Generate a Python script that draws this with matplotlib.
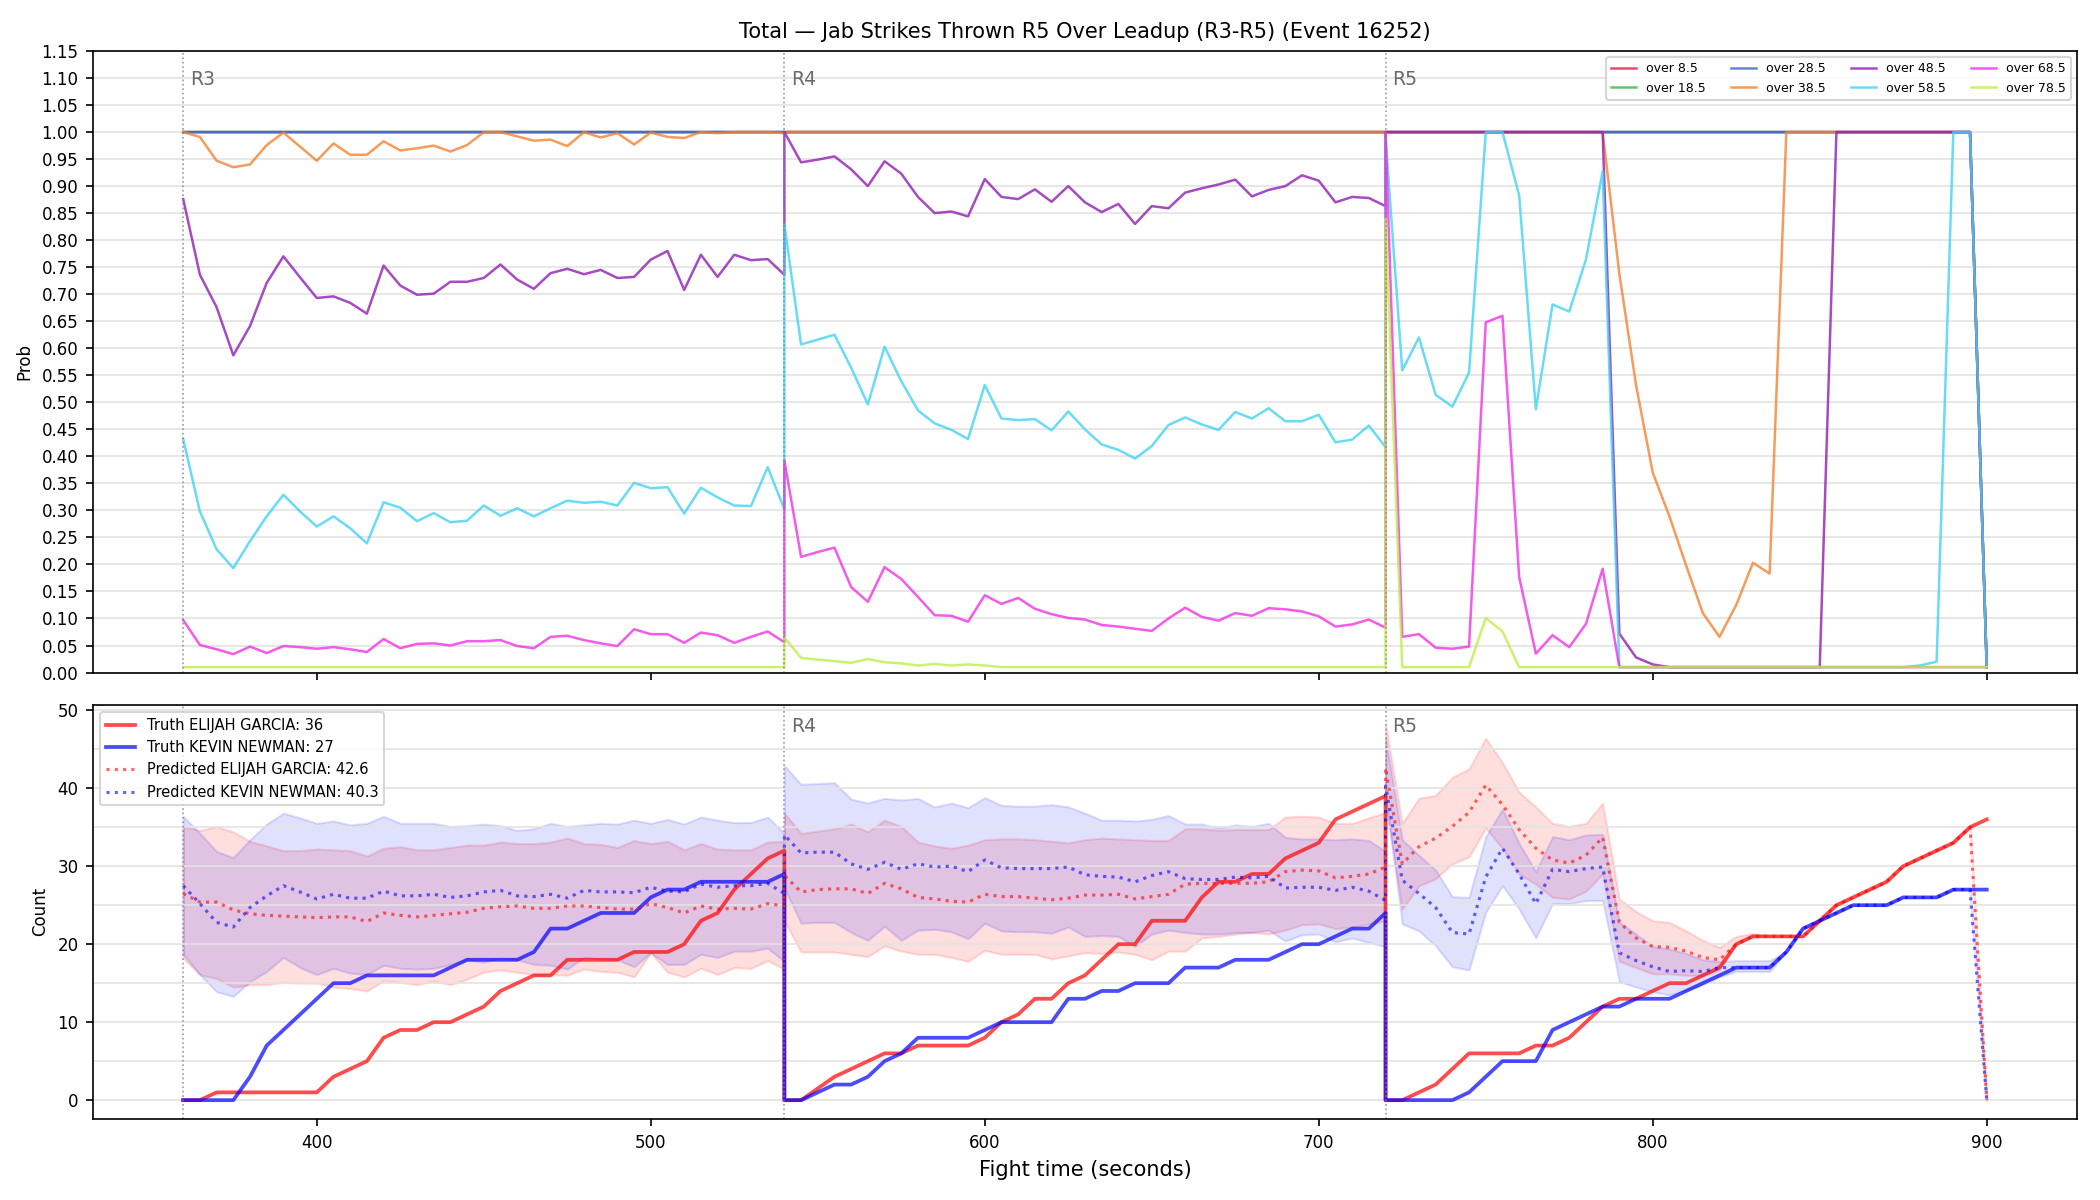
import matplotlib
matplotlib.use("Agg")
import matplotlib.pyplot as plt
from matplotlib.ticker import MultipleLocator, FormatStrFormatter

# rounds shown in the leadup, each sampled every 5 s
round_names = ["R3", "R4", "R5"]
round_starts = [360, 540, 720]
round_secs = list(range(0, 181, 5))
fight_time = [s + t for s in round_starts for t in round_secs]

line_labels = ["over 8.5", "over 18.5", "over 28.5", "over 38.5",
               "over 48.5", "over 58.5", "over 68.5", "over 78.5"]
line_colors = ["#e6194b", "#3cb44b", "#4363d8", "#f58231",
               "#911eb4", "#42d4f4", "#f032e6", "#bfef45"]

# P(over line) per sample
p_over_8 = [1.0] * 37 + [1.0] * 37 + [1.0] * 36 + [0.01]
p_over_18 = [1.0] * 37 + [1.0] * 37 + [1.0] * 36 + [0.01]
p_over_28 = [1.0] * 37 + [1.0] * 37 + [1.0] * 36 + [0.01]
p_over_38 = (
    [1.0, 0.991, 0.947, 0.935, 0.94, 0.976, 0.999, 0.973, 0.947, 0.979, 0.958, 0.958,
     0.983, 0.966, 0.97, 0.975, 0.964, 0.976, 1.0, 1.0, 0.992, 0.984, 0.986, 0.974,
     1.0, 0.99, 0.998, 0.977, 0.999, 0.991, 0.989, 1.0, 0.998, 1.0, 1.0, 1.0, 0.998]
    + [1.0] * 37
    + [1.0] * 14
    + [0.738, 0.532, 0.37, 0.289, 0.198, 0.11, 0.066, 0.125, 0.203, 0.183]
    + [1.0] * 12 + [0.01]
)
p_over_48 = (
    [0.876, 0.736, 0.676, 0.587, 0.641, 0.721, 0.77, 0.731, 0.693, 0.696, 0.684, 0.664,
     0.753, 0.716, 0.699, 0.701, 0.723, 0.723, 0.73, 0.755, 0.727, 0.71, 0.739, 0.747,
     0.737, 0.745, 0.73, 0.732, 0.764, 0.78, 0.708, 0.773, 0.732, 0.773, 0.763, 0.765, 0.736]
    + [1.0, 0.944, 0.949, 0.955, 0.931, 0.9, 0.946, 0.923, 0.88, 0.85, 0.853, 0.844,
       0.913, 0.88, 0.876, 0.894, 0.871, 0.9, 0.87, 0.852, 0.867, 0.83, 0.863, 0.859,
       0.888, 0.896, 0.903, 0.912, 0.881, 0.893, 0.9, 0.92, 0.91, 0.87, 0.88, 0.878, 0.863]
    + [1.0] * 14 + [0.072, 0.028, 0.015] + [0.01] * 10 + [1.0] * 9 + [0.01]
)
p_over_58 = (
    [0.432, 0.298, 0.228, 0.193, 0.243, 0.289, 0.329, 0.298, 0.27, 0.289, 0.267, 0.239,
     0.315, 0.305, 0.28, 0.295, 0.278, 0.281, 0.309, 0.29, 0.304, 0.289, 0.304, 0.318,
     0.314, 0.316, 0.309, 0.351, 0.341, 0.343, 0.294, 0.342, 0.324, 0.309, 0.308, 0.38, 0.302]
    + [0.829, 0.607, 0.616, 0.625, 0.564, 0.496, 0.603, 0.539, 0.485, 0.461, 0.449, 0.432,
       0.532, 0.47, 0.467, 0.469, 0.448, 0.483, 0.45, 0.422, 0.412, 0.396, 0.419, 0.458,
       0.472, 0.459, 0.449, 0.482, 0.47, 0.489, 0.465, 0.465, 0.477, 0.426, 0.431, 0.457, 0.417]
    + [0.99, 0.559, 0.62, 0.514, 0.492, 0.555, 1.0, 1.0, 0.883, 0.487, 0.681, 0.668,
       0.764, 0.927] + [0.01] * 18 + [0.013, 0.02, 1.0, 1.0, 0.01]
)
p_over_68 = (
    [0.097, 0.051, 0.043, 0.034, 0.048, 0.036, 0.049, 0.047, 0.044, 0.047, 0.043, 0.038,
     0.062, 0.045, 0.053, 0.054, 0.05, 0.058, 0.058, 0.06, 0.049, 0.045, 0.066, 0.068,
     0.06, 0.054, 0.049, 0.08, 0.071, 0.071, 0.055, 0.074, 0.069, 0.055, 0.066, 0.076, 0.056]
    + [0.392, 0.214, 0.223, 0.231, 0.158, 0.131, 0.195, 0.173, 0.14, 0.106, 0.105, 0.094,
       0.143, 0.127, 0.138, 0.118, 0.108, 0.101, 0.098, 0.088, 0.085, 0.081, 0.077, 0.1,
       0.12, 0.103, 0.096, 0.11, 0.105, 0.119, 0.117, 0.113, 0.104, 0.085, 0.089, 0.098, 0.083]
    + [1.0, 0.066, 0.071, 0.046, 0.044, 0.048, 0.648, 0.66, 0.177, 0.035, 0.069, 0.047,
       0.09, 0.192] + [0.01] * 23
)
p_over_78 = (
    [0.01] * 37
    + [0.065, 0.027, 0.024, 0.021, 0.018, 0.025, 0.019, 0.017, 0.013, 0.016, 0.013,
       0.015, 0.013] + [0.01] * 24
    + [0.84, 0.01, 0.01, 0.01, 0.01, 0.01, 0.101, 0.076] + [0.01] * 29
)
prob_series = [p_over_8, p_over_18, p_over_28, p_over_38,
               p_over_48, p_over_58, p_over_68, p_over_78]

# cumulative counts
truth_garcia = (
    [0, 0, 1, 1, 1, 1, 1, 1, 1, 3, 4, 5, 8, 9, 9, 10, 10, 11, 12, 14, 15, 16, 16,
     18, 18, 18, 18, 19, 19, 19, 20, 23, 24, 27, 29, 31, 32]
    + [0, 0, 1.5, 3, 4, 5, 6, 6, 7, 7, 7, 7, 8, 10, 11, 13, 13, 15, 16, 18, 20, 20,
       23, 23, 23, 26, 28, 28, 29, 29, 31, 32, 33, 36, 37, 38, 39]
    + [0, 0, 1, 2, 4, 6, 6, 6, 6, 7, 7, 8, 10, 12, 13, 13, 14, 15, 15, 16, 17, 20,
       21, 21, 21, 21, 23, 25, 26, 27, 28, 30, 31, 32, 33, 35, 36]
)
truth_newman = (
    [0, 0, 0, 0, 3, 7, 9, 11, 13, 15, 15, 16, 16, 16, 16, 16, 17, 18, 18, 18, 18, 19,
     22, 22, 23, 24, 24, 24, 26, 27, 27, 28, 28, 28, 28, 28, 29]
    + [0, 0, 1, 2, 2, 3, 5, 6, 8, 8, 8, 8, 9, 10, 10, 10, 10, 13, 13, 14, 14, 15, 15,
       15, 17, 17, 17, 18, 18, 18, 19, 20, 20, 21, 22, 22, 24]
    + [0, 0, 0, 0, 0, 1, 3, 5, 5, 5, 9, 10, 11, 12, 12, 13, 13, 13, 14, 15, 16, 17,
       17, 17, 19, 22, 23, 24, 25, 25, 25, 26, 26, 26, 27, 27, 27]
)
pred_garcia = (
    [26.5, 25.4, 25.4, 24.4, 23.9, 23.7, 23.6, 23.5, 23.4, 23.5, 23.5, 22.9, 24.0,
     23.7, 23.5, 23.7, 23.9, 24.1, 24.6, 24.8, 24.9, 24.6, 24.6, 24.9, 24.9, 24.7,
     24.5, 24.5, 25.2, 24.7, 24.0, 24.9, 24.5, 24.6, 24.5, 25.2, 24.9]
    + [28.8, 26.7, 27.0, 27.1, 27.1, 26.5, 27.8, 27.1, 26.0, 25.8, 25.5, 25.4, 26.4,
       26.1, 26.1, 25.9, 25.7, 25.9, 26.3, 26.3, 26.4, 25.8, 26.1, 26.4, 27.7, 27.8,
       27.8, 27.8, 27.8, 28.0, 29.3, 29.5, 29.4, 28.5, 28.7, 29.0, 29.9]
    + [42.6, 30.3, 32.5, 33.6, 35.1, 36.9, 40.4, 37.9, 34.7, 32.3, 30.8, 30.4, 31.4,
       33.7, 22.8, 20.8, 19.7, 19.6, 19.1, 18.3, 18.0, 20, 21, 21, 21, 21, 23, 25, 26,
       27, 28, 30, 31, 32, 33, 35, 0]
)
pred_newman = (
    [27.5, 25.2, 22.8, 22.2, 24.7, 26.2, 27.5, 26.7, 25.8, 26.4, 25.9, 25.9, 26.8,
     26.2, 26.2, 26.4, 26.0, 26.2, 26.7, 26.9, 26.2, 26.1, 26.4, 25.9, 26.9, 26.7,
     26.7, 26.6, 27.3, 26.8, 26.7, 27.7, 27.3, 27.5, 27.5, 27.8, 26.5]
    + [34.0, 31.7, 31.8, 31.8, 30.3, 29.6, 30.5, 29.6, 30.3, 29.9, 30.0, 29.3, 30.8,
       29.8, 29.7, 29.7, 29.7, 29.9, 28.9, 28.7, 28.6, 28.0, 28.8, 29.3, 28.4, 28.3,
       28.3, 28.6, 28.5, 28.7, 27.2, 27.3, 27.3, 26.9, 27.3, 26.8, 25.6]
    + [40.3, 28.2, 26.5, 24.7, 21.5, 21.3, 28.6, 32.3, 29.0, 25.2, 29.6, 29.3, 29.7,
       29.9, 18.9, 17.9, 17.1, 16.5, 16.6, 16.5, 17.0, 17, 17, 17, 19, 22, 23, 24, 25,
       25, 25, 26, 26, 26, 27, 27, 0]
)
garcia_hi = (
    [35.1, 34.6, 35.1, 34.4, 33.2, 32.6, 32.0, 32.0, 32.2, 32.1, 32.0, 31.3, 32.3,
     32.5, 32.1, 32.1, 32.4, 32.7, 32.7, 33.1, 32.9, 32.9, 33.1, 33.6, 32.9, 32.8,
     32.4, 33.3, 32.9, 33.2, 32.1, 32.9, 32.2, 32.1, 32.1, 33.1, 33.2]
    + [36.8, 34.2, 34.5, 34.8, 35.4, 34.4, 35.9, 35.1, 33.1, 32.6, 32.3, 32.7, 33.4,
       33.5, 33.5, 33.4, 33.2, 33.0, 33.4, 33.6, 33.5, 33.4, 33.3, 33.3, 34.8, 34.8,
       34.6, 34.7, 34.7, 34.7, 36.3, 36.4, 36.3, 35.5, 35.5, 36.2, 36.9]
    + [48.3, 35.5, 38.7, 39.1, 41.4, 42.5, 46.4, 43.3, 39.5, 37.6, 35.5, 35.1, 35.5,
       38.1, 25.8, 24.2, 23.0, 22.8, 21.7, 20.5, 19.6, 21.0, 21.4, 21, 21, 21, 23, 25,
       26, 27, 28, 30, 31, 32, 33, 35, 0]
)
garcia_lo = (
    [18.2, 16.1, 15.6, 14.5, 14.8, 14.8, 15.1, 15.0, 15.0, 14.5, 14.3, 14.0, 15.3,
     15.1, 14.8, 15.3, 14.8, 15.5, 16.4, 16.7, 16.4, 16.1, 16.1, 16.0, 16.8, 16.5,
     16.4, 15.8, 18.9, 16.4, 15.8, 16.9, 16.1, 17.0, 16.9, 17.9, 16.8]
    + [23.0, 19.0, 19.0, 19.0, 18.7, 18.4, 19.8, 19.1, 18.7, 18.7, 18.3, 17.8, 19.2,
       18.7, 18.7, 18.7, 18.1, 18.5, 18.9, 18.8, 19.0, 18.7, 18.0, 19.1, 19.1, 20.8,
       21.0, 21.3, 21.5, 21.3, 21.8, 22.5, 22.6, 22.0, 22.2, 22.6, 23.0]
    + [38.0, 24.5, 27.5, 28.4, 30.3, 31.2, 34.9, 32.3, 29.0, 27.7, 26.0, 25.8, 26.8,
       29.0, 17.8, 17.0, 16.2, 16.2, 16.0, 16.0, 16.7, 20.0, 21.1, 21, 21, 21, 23, 25,
       26, 27, 28, 30, 31, 32, 33, 35, 0]
)
newman_hi = (
    [36.4, 34.2, 31.9, 31.1, 33.4, 35.4, 36.8, 36.2, 35.5, 35.8, 35.3, 35.5, 36.4,
     35.5, 35.5, 35.5, 35.1, 35.2, 35.4, 35.2, 34.6, 34.8, 35.5, 35.1, 35.3, 35.5,
     35.4, 35.9, 35.5, 36.0, 35.4, 36.3, 35.9, 35.6, 35.6, 36.3, 34.2]
    + [42.9, 40.5, 40.6, 40.7, 38.6, 38.1, 38.7, 38.5, 38.7, 37.6, 38.1, 37.5, 38.8,
       37.8, 37.7, 37.7, 37.9, 37.6, 36.8, 35.9, 35.9, 35.8, 36.0, 36.5, 35.4, 35.4,
       34.9, 35.3, 35.1, 35.5, 33.7, 33.5, 33.5, 33.4, 33.5, 33.3, 31.9]
    + [46.4, 33.4, 31.4, 29.5, 26.1, 26.0, 33.8, 37.3, 32.9, 29.3, 33.8, 33.4, 34.0,
       34.1, 22.8, 21.3, 19.7, 19.4, 18.8, 18.0, 17.8, 17.9, 17.9, 17.9, 19, 22, 23,
       24, 25, 25, 25, 26, 26, 26, 27, 27, 0]
)
newman_lo = (
    [18.7, 16.1, 13.9, 13.3, 15.2, 16.5, 18.3, 17.0, 16.1, 16.9, 16.3, 16.1, 17.3,
     16.9, 16.8, 16.9, 17.4, 18.0, 17.7, 18.2, 18.0, 17.4, 17.3, 16.8, 18.3, 18.1,
     18.0, 17.1, 18.9, 17.4, 17.4, 18.7, 18.3, 19.1, 19.1, 19.5, 17.8]
    + [27.2, 22.7, 22.8, 22.8, 21.5, 20.5, 22.3, 20.5, 21.8, 21.9, 21.6, 20.7, 22.7,
       21.7, 21.6, 21.6, 21.4, 22.2, 21.0, 21.1, 21.0, 19.7, 21.3, 21.8, 21.5, 21.3,
       21.3, 21.5, 21.5, 21.8, 20.4, 21.2, 21.3, 20.3, 20.8, 20.2, 19.7]
    + [39.0, 22.6, 21.7, 19.8, 17.1, 16.7, 24.1, 27.5, 24.5, 20.8, 25.2, 25.2, 25.6,
       25.6, 15.2, 14.5, 13.9, 13.5, 14.1, 14.8, 15.8, 16.5, 16.5, 16.5, 19, 22, 23,
       24, 25, 25, 25, 26, 26, 26, 27, 27, 0]
)

fig, (ax1, ax2) = plt.subplots(2, 1, figsize=(14, 8), dpi=150, sharex=True,
                               gridspec_kw={"height_ratios": [3, 2]})
plt.subplots_adjust(left=0.0443, right=0.989, top=0.9575, bottom=0.0675, hspace=0.062)

# top: probability of each line
for vals, lab, col in zip(prob_series, line_labels, line_colors):
    ax1.plot(fight_time, vals, color=col, lw=1.2, alpha=0.8, label=lab)
ax1.set_ylim(0, 1.15)
ax1.yaxis.set_major_locator(MultipleLocator(0.05))
ax1.yaxis.set_major_formatter(FormatStrFormatter("%.2f"))
ax1.set_ylabel("Prob", fontsize=8)
ax1.grid(axis="y", color="#e3e3e3", lw=0.8)
ax1.legend(loc="upper right", ncol=4, fontsize=6)
ax1.set_title("Total \u2014 Jab Strikes Thrown R5 Over Leadup (R3-R5) (Event 16252)", fontsize=10)

# bottom: counts
ax2.fill_between(fight_time, garcia_lo, garcia_hi, color="red", alpha=0.13)
ax2.fill_between(fight_time, newman_lo, newman_hi, color="blue", alpha=0.12)
ax2.plot(fight_time, truth_garcia, color="red", lw=1.8, alpha=0.7,
         label="Truth ELIJAH GARCIA: 36")
ax2.plot(fight_time, truth_newman, color="blue", lw=1.8, alpha=0.7,
         label="Truth KEVIN NEWMAN: 27")
ax2.plot(fight_time, pred_garcia, color="red", lw=1.5, ls=":", alpha=0.6,
         label="Predicted ELIJAH GARCIA: 42.6")
ax2.plot(fight_time, pred_newman, color="blue", lw=1.5, ls=":", alpha=0.6,
         label="Predicted KEVIN NEWMAN: 40.3")
ax2.yaxis.set_major_locator(MultipleLocator(10))
ax2.yaxis.set_minor_locator(MultipleLocator(5))
ax2.tick_params(axis="y", which="minor", length=0)
ax2.grid(axis="y", which="both", color="#e3e3e3", lw=0.8)
ax2.set_ylabel("Count", fontsize=8)
ax2.set_xlabel("Fight time (seconds)", fontsize=10)
ax2.legend(loc="upper left", fontsize=7)

for ax in (ax1, ax2):
    ax.tick_params(labelsize=8)
    for name, start in zip(round_names, round_starts):
        ax.axvline(start, color="gray", ls=":", lw=0.8, alpha=0.8)
        # the R3 tag of the count panel sits under its legend
        if ax is ax2 and name == "R3":
            continue
        ax.text(start + 2, 0.97, name, transform=ax.get_xaxis_transform(),
                ha="left", va="top", color="dimgray", fontsize=9)

plt.savefig("out.png", dpi=150)
